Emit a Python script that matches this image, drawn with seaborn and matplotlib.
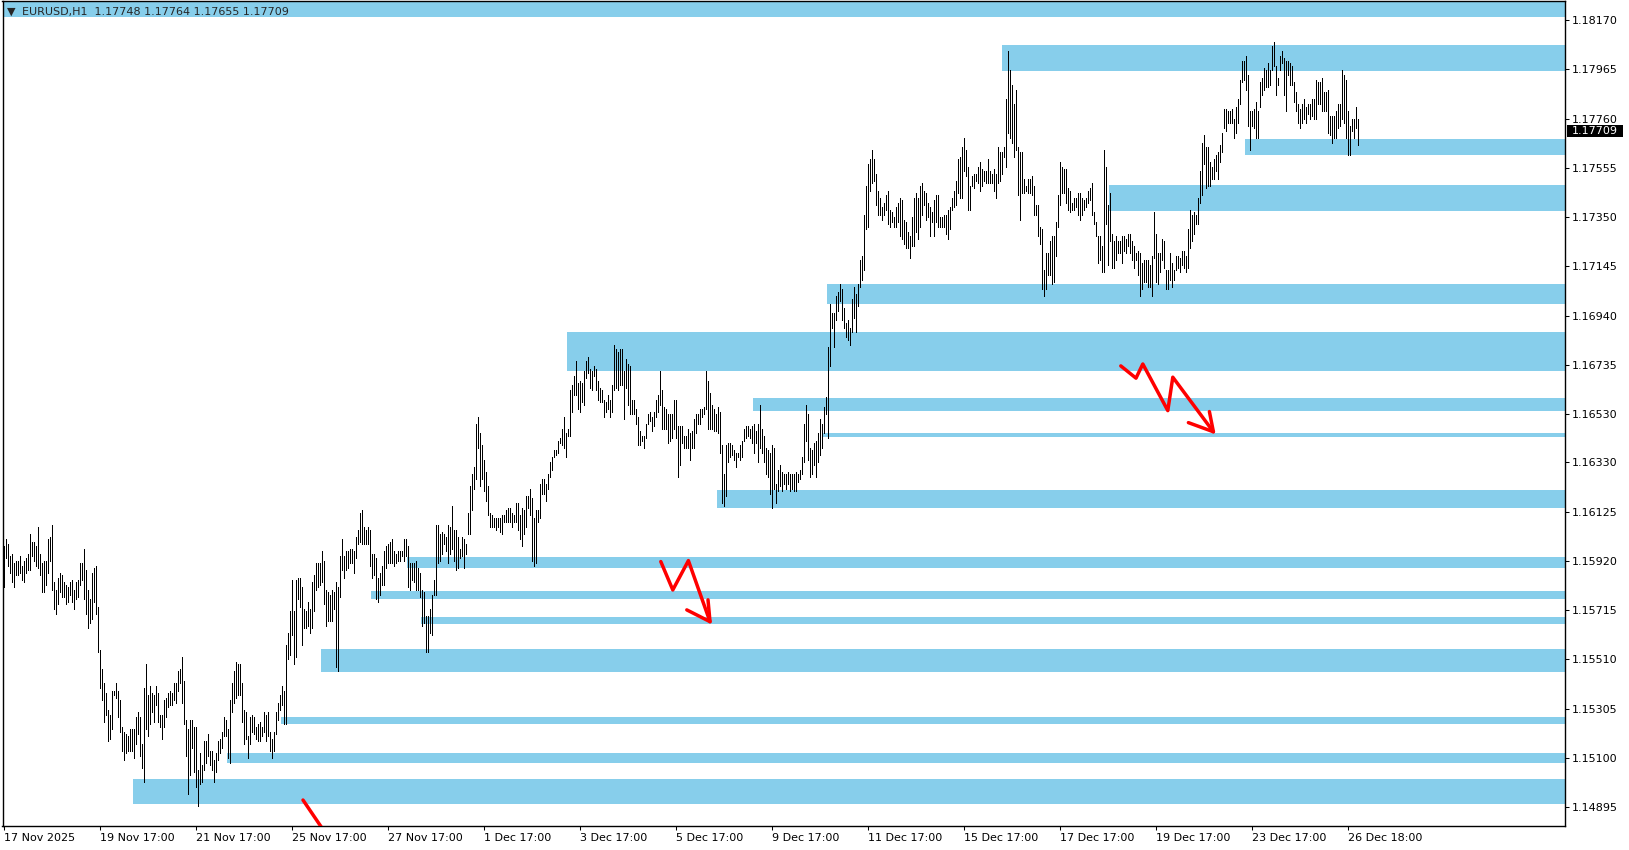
import numpy as np
import pandas as pd
import seaborn as sns
import matplotlib.pyplot as plt
from matplotlib.patches import Rectangle
from matplotlib.transforms import blended_transform_factory

# EURUSD H1 bars, 17 Nov 17:00 .. 26 Dec (high / low of each hour)
highs = [
    1.1598, 1.1601, 1.1599, 1.1594, 1.1595, 1.1591, 1.1592, 1.1592, 1.1594, 1.1590,
    1.1592, 1.1593, 1.1595, 1.1603, 1.1600, 1.1600, 1.1598, 1.1606, 1.1595, 1.1591,
    1.1592, 1.1592, 1.1601, 1.1602, 1.1607, 1.1583, 1.1580, 1.1585, 1.1587, 1.1586,
    1.1583, 1.1582, 1.1581, 1.1583, 1.1584, 1.1580, 1.1583, 1.1584, 1.1591, 1.1591,
    1.1597, 1.1588, 1.1580, 1.1576, 1.1587, 1.1589, 1.1590, 1.1573, 1.1555, 1.1547,
    1.1541, 1.1537, 1.1530, 1.1528, 1.1538, 1.1538, 1.1541, 1.1538, 1.1534, 1.1523,
    1.1521, 1.1520, 1.1519, 1.1522, 1.1522, 1.1522, 1.1527, 1.1529, 1.1527, 1.1516,
    1.1539, 1.1549, 1.1536, 1.1540, 1.1537, 1.1536, 1.1540, 1.1537, 1.1528, 1.1528,
    1.1534, 1.1535, 1.1537, 1.1538, 1.1537, 1.1541, 1.1541, 1.1546, 1.1547, 1.1552,
    1.1542, 1.1526, 1.1522, 1.1526, 1.1526, 1.1523, 1.1523, 1.1505, 1.1512, 1.1507,
    1.1517, 1.1517, 1.1520, 1.1513, 1.1513, 1.1509, 1.1512, 1.1517, 1.1518, 1.1521,
    1.1527, 1.1526, 1.1522, 1.1534, 1.1541, 1.1546, 1.1550, 1.1549, 1.1549, 1.1541,
    1.1530, 1.1529, 1.1519, 1.1527, 1.1528, 1.1527, 1.1523, 1.1524, 1.1525, 1.1523,
    1.1529, 1.1528, 1.1529, 1.1521, 1.1518, 1.1521, 1.1529, 1.1533, 1.1536, 1.1540,
    1.1538, 1.1557, 1.1562, 1.1571,
    1.1584, 1.1571, 1.1584, 1.1585, 1.1585, 1.1581, 1.1572, 1.1571, 1.1575, 1.1572,
    1.1583, 1.1586, 1.1591, 1.1591, 1.1591, 1.1596, 1.1592, 1.1580, 1.1579, 1.1578,
    1.1580, 1.1579, 1.1583, 1.1581, 1.1594, 1.1601, 1.1594, 1.1596, 1.1596, 1.1597,
    1.1597, 1.1596, 1.1602, 1.1605, 1.1612, 1.1613, 1.1606, 1.1605, 1.1606, 1.1605,
    1.1595, 1.1595, 1.1593, 1.1585, 1.1587, 1.1590, 1.1596, 1.1598, 1.1599, 1.1600,
    1.1601, 1.1596, 1.1595, 1.1596, 1.1596, 1.1596, 1.1601, 1.1601, 1.1598, 1.1591,
    1.1591, 1.1591, 1.1592, 1.1589, 1.1587, 1.1580, 1.1579, 1.1569, 1.1569, 1.1572,
    1.1578, 1.1584, 1.1607, 1.1607, 1.1603, 1.1604, 1.1603, 1.1602, 1.1607, 1.1606,
    1.1615, 1.1605, 1.1605, 1.1602, 1.1597, 1.1602, 1.1601, 1.1599, 1.1612, 1.1623,
    1.1628, 1.1631, 1.1649, 1.1652, 1.1645, 1.1640, 1.1634, 1.1629, 1.1623, 1.1612,
    1.1611, 1.1610, 1.1610, 1.1610, 1.1610, 1.1611, 1.1611, 1.1613, 1.1614, 1.1614,
    1.1612, 1.1611, 1.1616, 1.1616, 1.1611, 1.1614, 1.1613, 1.1619, 1.1619, 1.1622,
    1.1618, 1.1610, 1.1613, 1.1613, 1.1624, 1.1626, 1.1626, 1.1624, 1.1628, 1.1633,
    1.1635, 1.1638, 1.1638, 1.1642, 1.1643, 1.1647, 1.1652, 1.1645, 1.1647, 1.1663,
    1.1665, 1.1669, 1.1675, 1.1666, 1.1667, 1.1666, 1.1671, 1.1675, 1.1677, 1.1672,
    1.1671, 1.1673, 1.1672, 1.1667, 1.1664, 1.1663, 1.1659, 1.1658, 1.1661, 1.1659,
    1.1665, 1.1682, 1.1680, 1.1679, 1.1680, 1.1680, 1.1671, 1.1676, 1.1674, 1.1673,
    1.1659, 1.1659, 1.1655, 1.1652, 1.1646, 1.1644, 1.1644, 1.1649, 1.1653, 1.1654,
    1.1652, 1.1654, 1.1659, 1.1661, 1.1671, 1.1663, 1.1656, 1.1655, 1.1653, 1.1653,
    1.1653, 1.1659, 1.1659, 1.1648, 1.1648, 1.1648, 1.1644, 1.1644, 1.1647, 1.1645,
    1.1646, 1.1651, 1.1653, 1.1653, 1.1655, 1.1655, 1.1656, 1.1671, 1.1667, 1.1662,
    1.1657, 1.1655, 1.1653, 1.1656, 1.1654, 1.1640, 1.1628, 1.1640, 1.1641, 1.1641,
    1.1640, 1.1638, 1.1637, 1.1637, 1.1640, 1.1642, 1.1647, 1.1648, 1.1648, 1.1647,
    1.1648, 1.1649, 1.1646, 1.1649, 1.1657, 1.1647, 1.1644, 1.1639, 1.1638, 1.1637,
    1.1640, 1.1639, 1.1624, 1.1630, 1.1632, 1.1629, 1.1628, 1.1628, 1.1629, 1.1628,
    1.1628, 1.1628, 1.1629, 1.1628, 1.1630, 1.1635, 1.1649, 1.1657, 1.1653, 1.1639,
    1.1638, 1.1641, 1.1642, 1.1645, 1.1651, 1.1649, 1.1656, 1.1660, 1.1681, 1.1699,
    1.1695, 1.1695, 1.1702, 1.1704, 1.1707, 1.1705, 1.1697, 1.1691, 1.1692, 1.1689,
    1.1701, 1.1706, 1.1703, 1.1707, 1.1717, 1.1719, 1.1736, 1.1748, 1.1757, 1.1759,
    1.1763, 1.1759, 1.1753, 1.1746, 1.1743, 1.1739, 1.1741, 1.1744, 1.1746, 1.1738,
    1.1737, 1.1735, 1.1739, 1.1741, 1.1743, 1.1742, 1.1734, 1.1733, 1.1729, 1.1727,
    1.1735, 1.1743, 1.1745, 1.1743, 1.1748, 1.1749, 1.1746, 1.1745, 1.1741, 1.1739,
    1.1737, 1.1742, 1.1744, 1.1744, 1.1735, 1.1735, 1.1736, 1.1736, 1.1738, 1.1739,
    1.1743, 1.1746, 1.1750, 1.1759, 1.1760, 1.1764, 1.1768, 1.1763, 1.1756, 1.1748,
    1.1752, 1.1753, 1.1753, 1.1756, 1.1758, 1.1755, 1.1754, 1.1754, 1.1759, 1.1754,
    1.1753, 1.1755, 1.1753, 1.1764, 1.1762, 1.1762, 1.1764, 1.1784, 1.1804, 1.1796,
    1.1790, 1.1782, 1.1788, 1.1764, 1.1762, 1.1762, 1.1751, 1.1748, 1.1751, 1.1751,
    1.1752, 1.1748, 1.1740, 1.1740, 1.1731, 1.1730, 1.1713, 1.1720, 1.1720, 1.1725,
    1.1727, 1.1727, 1.1733, 1.1744, 1.1758, 1.1756, 1.1755, 1.1755, 1.1747, 1.1746,
    1.1741, 1.1743, 1.1743, 1.1745, 1.1745, 1.1743, 1.1742, 1.1743, 1.1746, 1.1747,
    1.1749, 1.1737, 1.1733, 1.1727, 1.1727, 1.1723, 1.1763, 1.1756, 1.1740, 1.1745,
    1.1728, 1.1725, 1.1727, 1.1725, 1.1725, 1.1727, 1.1727, 1.1726, 1.1728, 1.1728,
    1.1725, 1.1723, 1.1720, 1.1721, 1.1720, 1.1716, 1.1717, 1.1717, 1.1717, 1.1715,
    1.1719, 1.1737, 1.1728, 1.1720, 1.1720, 1.1726, 1.1725, 1.1713, 1.1713, 1.1720,
    1.1716, 1.1713, 1.1719, 1.1719, 1.1718, 1.1721, 1.1721, 1.1719, 1.1730, 1.1738,
    1.1736, 1.1737, 1.1736, 1.1743, 1.1754, 1.1766, 1.1769, 1.1764, 1.1764, 1.1758,
    1.1756, 1.1759, 1.1761, 1.1762, 1.1765, 1.1770, 1.1780, 1.1780, 1.1779, 1.1779,
    1.1780, 1.1776, 1.1781, 1.1784, 1.1792, 1.1800, 1.1800, 1.1802, 1.1794, 1.1779,
    1.1779, 1.1780, 1.1783, 1.1779, 1.1791, 1.1793, 1.1797, 1.1796, 1.1799, 1.1796,
    1.1806, 1.1808, 1.1798, 1.1793, 1.1802, 1.1804, 1.1801, 1.1800, 1.1800, 1.1799,
    1.1798, 1.1791, 1.1787, 1.1782, 1.1780, 1.1782, 1.1784, 1.1781, 1.1782, 1.1782,
    1.1784, 1.1784, 1.1792, 1.1791, 1.1791, 1.1793, 1.1787, 1.1787, 1.1788, 1.1777,
    1.1777, 1.1777, 1.1779, 1.1782, 1.1782, 1.1796, 1.1794, 1.1792, 1.1779, 1.1773,
    1.1776, 1.1776, 1.1781, 1.1776,
]
lows = [
    1.1581, 1.1593, 1.1590, 1.1587, 1.1583, 1.1581, 1.1586, 1.1586, 1.1587, 1.1584,
    1.1583, 1.1587, 1.1588, 1.1588, 1.1594, 1.1592, 1.1590, 1.1589, 1.1586, 1.1579,
    1.1579, 1.1582, 1.1587, 1.1592, 1.1580, 1.1572, 1.1570, 1.1574, 1.1579, 1.1577,
    1.1577, 1.1574, 1.1575, 1.1578, 1.1575, 1.1572, 1.1576, 1.1577, 1.1582, 1.1584,
    1.1576, 1.1570, 1.1564, 1.1566, 1.1568, 1.1575, 1.1570, 1.1554, 1.1539, 1.1534,
    1.1525, 1.1528, 1.1517, 1.1518, 1.1522, 1.1536, 1.1535, 1.1527, 1.1521, 1.1513,
    1.1509, 1.1512, 1.1513, 1.1513, 1.1513, 1.1510, 1.1516, 1.1520, 1.1511, 1.1506,
    1.1500, 1.1522, 1.1519, 1.1524, 1.1529, 1.1525, 1.1532, 1.1525, 1.1523, 1.1518,
    1.1523, 1.1527, 1.1531, 1.1532, 1.1532, 1.1534, 1.1533, 1.1538, 1.1541, 1.1533,
    1.1524, 1.1511, 1.1495, 1.1503, 1.1514, 1.1504, 1.1498, 1.1490, 1.1499, 1.1500,
    1.1505, 1.1508, 1.1511, 1.1507, 1.1505, 1.1500, 1.1504, 1.1509, 1.1512, 1.1514,
    1.1519, 1.1519, 1.1510, 1.1508, 1.1529, 1.1533, 1.1535, 1.1536, 1.1536, 1.1525,
    1.1516, 1.1518, 1.1510, 1.1516, 1.1521, 1.1520, 1.1518, 1.1517, 1.1517, 1.1519,
    1.1521, 1.1517, 1.1519, 1.1513, 1.1510, 1.1513, 1.1520, 1.1526, 1.1530, 1.1532,
    1.1524, 1.1524, 1.1551, 1.1553,
    1.1561, 1.1549, 1.1552, 1.1576, 1.1573, 1.1557, 1.1564, 1.1564, 1.1565, 1.1562,
    1.1564, 1.1571, 1.1580, 1.1581, 1.1582, 1.1583, 1.1574, 1.1565, 1.1567, 1.1567,
    1.1567, 1.1572, 1.1548, 1.1546, 1.1577, 1.1588, 1.1585, 1.1588, 1.1589, 1.1591,
    1.1591, 1.1587, 1.1593, 1.1599, 1.1600, 1.1599, 1.1599, 1.1599, 1.1599, 1.1590,
    1.1585, 1.1586, 1.1576, 1.1575, 1.1578, 1.1582, 1.1582, 1.1589, 1.1591, 1.1591,
    1.1591, 1.1590, 1.1591, 1.1592, 1.1592, 1.1594, 1.1592, 1.1594, 1.1581, 1.1580,
    1.1584, 1.1583, 1.1580, 1.1580, 1.1577, 1.1565, 1.1566, 1.1554, 1.1554, 1.1562,
    1.1561, 1.1578, 1.1578, 1.1591, 1.1592, 1.1595, 1.1599, 1.1596, 1.1591, 1.1595,
    1.1597, 1.1592, 1.1588, 1.1589, 1.1593, 1.1594, 1.1589, 1.1595, 1.1603, 1.1603,
    1.1613, 1.1622, 1.1626, 1.1639, 1.1623, 1.1626, 1.1621, 1.1617, 1.1611, 1.1606,
    1.1606, 1.1606, 1.1605, 1.1606, 1.1604, 1.1603, 1.1608, 1.1608, 1.1608, 1.1608,
    1.1606, 1.1608, 1.1608, 1.1605, 1.1601, 1.1598, 1.1603, 1.1606, 1.1614, 1.1611,
    1.1592, 1.1590, 1.1591, 1.1608, 1.1610, 1.1620, 1.1620, 1.1617, 1.1622, 1.1627,
    1.1630, 1.1635, 1.1636, 1.1637, 1.1641, 1.1640, 1.1639, 1.1635, 1.1644, 1.1644,
    1.1654, 1.1661, 1.1661, 1.1655, 1.1654, 1.1658, 1.1657, 1.1668, 1.1670, 1.1664,
    1.1663, 1.1669, 1.1663, 1.1659, 1.1658, 1.1658, 1.1652, 1.1654, 1.1655, 1.1652,
    1.1654, 1.1663, 1.1664, 1.1663, 1.1665, 1.1665, 1.1651, 1.1664, 1.1657, 1.1653,
    1.1653, 1.1653, 1.1649, 1.1640, 1.1640, 1.1642, 1.1639, 1.1643, 1.1649, 1.1650,
    1.1646, 1.1648, 1.1652, 1.1654, 1.1657, 1.1647, 1.1647, 1.1647, 1.1641, 1.1642,
    1.1643, 1.1647, 1.1643, 1.1627, 1.1632, 1.1641, 1.1639, 1.1639, 1.1639, 1.1634,
    1.1639, 1.1639, 1.1645, 1.1649, 1.1649, 1.1652, 1.1653, 1.1655, 1.1647, 1.1647,
    1.1647, 1.1646, 1.1646, 1.1645, 1.1637, 1.1616, 1.1615, 1.1619, 1.1633, 1.1635,
    1.1636, 1.1634, 1.1631, 1.1635, 1.1634, 1.1635, 1.1642, 1.1643, 1.1644, 1.1643,
    1.1641, 1.1637, 1.1641, 1.1633, 1.1639, 1.1637, 1.1633, 1.1628, 1.1627, 1.1620,
    1.1614, 1.1622, 1.1616, 1.1621, 1.1623, 1.1621, 1.1624, 1.1622, 1.1624, 1.1621,
    1.1622, 1.1621, 1.1621, 1.1625, 1.1626, 1.1628, 1.1633, 1.1642, 1.1634, 1.1627,
    1.1628, 1.1632, 1.1627, 1.1633, 1.1636, 1.1639, 1.1645, 1.1653, 1.1643, 1.1673,
    1.1689, 1.1681, 1.1692, 1.1696, 1.1700, 1.1692, 1.1689, 1.1685, 1.1684, 1.1682,
    1.1687, 1.1693, 1.1687, 1.1698, 1.1706, 1.1709, 1.1713, 1.1730, 1.1731, 1.1746,
    1.1749, 1.1750, 1.1740, 1.1736, 1.1736, 1.1734, 1.1736, 1.1738, 1.1732, 1.1731,
    1.1733, 1.1731, 1.1731, 1.1733, 1.1727, 1.1726, 1.1724, 1.1722, 1.1722, 1.1718,
    1.1723, 1.1723, 1.1729, 1.1726, 1.1731, 1.1736, 1.1740, 1.1734, 1.1735, 1.1727,
    1.1733, 1.1727, 1.1733, 1.1731, 1.1731, 1.1731, 1.1731, 1.1728, 1.1726, 1.1730,
    1.1738, 1.1739, 1.1740, 1.1745, 1.1743, 1.1743, 1.1754, 1.1752, 1.1738, 1.1738,
    1.1748, 1.1747, 1.1750, 1.1749, 1.1746, 1.1748, 1.1750, 1.1749, 1.1749, 1.1749,
    1.1749, 1.1746, 1.1743, 1.1749, 1.1750, 1.1753, 1.1760, 1.1756, 1.1770, 1.1768,
    1.1766, 1.1760, 1.1763, 1.1744, 1.1734, 1.1745, 1.1745, 1.1746, 1.1745, 1.1745,
    1.1744, 1.1736, 1.1736, 1.1727, 1.1724, 1.1705, 1.1702, 1.1705, 1.1711, 1.1711,
    1.1707, 1.1708, 1.1719, 1.1731, 1.1740, 1.1745, 1.1745, 1.1741, 1.1738, 1.1737,
    1.1738, 1.1738, 1.1739, 1.1736, 1.1734, 1.1736, 1.1738, 1.1739, 1.1741, 1.1742,
    1.1736, 1.1732, 1.1727, 1.1716, 1.1717, 1.1712, 1.1712, 1.1732, 1.1715, 1.1725,
    1.1714, 1.1714, 1.1717, 1.1720, 1.1720, 1.1716, 1.1721, 1.1720, 1.1723, 1.1720,
    1.1717, 1.1714, 1.1717, 1.1711, 1.1702, 1.1705, 1.1708, 1.1708, 1.1706, 1.1706,
    1.1702, 1.1718, 1.1708, 1.1707, 1.1712, 1.1717, 1.1714, 1.1705, 1.1705, 1.1709,
    1.1706, 1.1709, 1.1713, 1.1714, 1.1712, 1.1715, 1.1714, 1.1712, 1.1714, 1.1722,
    1.1725, 1.1728, 1.1732, 1.1732, 1.1741, 1.1744, 1.1757, 1.1747, 1.1748, 1.1748,
    1.1751, 1.1751, 1.1754, 1.1751, 1.1758, 1.1762, 1.1772, 1.1771, 1.1774, 1.1774,
    1.1774, 1.1768, 1.1770, 1.1774, 1.1782, 1.1791, 1.1792, 1.1788, 1.1773, 1.1763,
    1.1773, 1.1772, 1.1768, 1.1768, 1.1781, 1.1786, 1.1788, 1.1789, 1.1789, 1.1790,
    1.1796, 1.1798, 1.1786, 1.1790, 1.1796, 1.1799, 1.1786, 1.1779, 1.1794, 1.1790,
    1.1790, 1.1783, 1.1779, 1.1774, 1.1772, 1.1774, 1.1776, 1.1774, 1.1778, 1.1776,
    1.1777, 1.1776, 1.1776, 1.1782, 1.1782, 1.1779, 1.1779, 1.1779, 1.1770, 1.1769,
    1.1766, 1.1768, 1.1768, 1.1772, 1.1773, 1.1776, 1.1774, 1.1768, 1.1761, 1.1761,
    1.1771, 1.1768, 1.1772, 1.1765,
]

header = "EURUSD,H1  1.17748 1.17764 1.17655 1.17709"
last_price = 1.17709

# time axis labels, one every 48 bars
date_labels = ["17 Nov 2025", "19 Nov 17:00", "21 Nov 17:00", "25 Nov 17:00", "27 Nov 17:00",
               "1 Dec 17:00", "3 Dec 17:00", "5 Dec 17:00", "9 Dec 17:00", "11 Dec 17:00",
               "15 Dec 17:00", "17 Dec 17:00", "19 Dec 17:00", "23 Dec 17:00", "26 Dec 18:00"]
price_ticks = [1.18170, 1.17965, 1.17760, 1.17555, 1.17350, 1.17145, 1.16940, 1.16735, 1.16530,
               1.16330, 1.16125, 1.15920, 1.15715, 1.15510, 1.15305, 1.15100, 1.14895]

# supply / demand zones: first bar, low, high (run to the right edge)
zone_start = [-1, 499, 620.5, 552.5, 411.5, 281.5, 374.5, 409.5, 356.5,
              201.5, 183.5, 208.5, 158.5, 138.5, 111.5, 64.5]
zone_low = [1.18184, 1.17959, 1.17608, 1.17377, 1.16989, 1.16711, 1.16545, 1.16437, 1.16141,
            1.15892, 1.15762, 1.15658, 1.15459, 1.15243, 1.15079, 1.14910]
zone_high = [1.18260, 1.18066, 1.17674, 1.17484, 1.17072, 1.16872, 1.16598, 1.16453, 1.16215,
             1.15936, 1.15795, 1.15688, 1.15554, 1.15272, 1.15122, 1.15013]

# hand drawn red arrows (bar, price)
arrow_1 = [(558.4, 1.16731), (566.0, 1.16680), (569.4, 1.16739), (581.9, 1.16545),
           (584.4, 1.16684), (604.7, 1.16457)]
arrow_1_head = [(592.2, 1.16495), (604.7, 1.16457), (602.7, 1.16541)]
arrow_2 = [(328.4, 1.15917), (334.4, 1.15799), (342.2, 1.15921), (353.0, 1.15667)]
arrow_2_head = [(341.4, 1.15716), (353.0, 1.15667), (352.0, 1.15758)]
arrow_3 = [(149.5, 1.14925), (160.5, 1.14790)]

n = len(highs)
bars = pd.DataFrame({"bar": np.arange(n), "high": highs[:n], "low": lows[:n]})

sns.set_theme(style="white")
plt.rcParams['font.family'] = ['DejaVu Sans']

fig = plt.figure(figsize=(16.29, 8.5), dpi=100)
ax = fig.add_axes([2.5 / 1629, 24 / 850, 1562.5 / 1629, 825 / 850])

x_right = 780.5
for x0, lo, hi in zip(zone_start, zone_low, zone_high):
    ax.fill_between([x0, x_right + 5], lo, hi, color="#87CEEB", lw=0, zorder=1)

# one pixel wide bars
ax.vlines(bars["bar"], bars["low"], bars["high"], colors="black",
          linewidth=0.5, antialiased=False, zorder=3)

paths = [arrow_1, arrow_1_head, arrow_2, arrow_2_head, arrow_3]
arrows = pd.DataFrame([(k, px, py) for k, p in enumerate(paths) for px, py in p],
                      columns=["seg", "x", "y"])
sns.lineplot(data=arrows, x="x", y="y", units="seg", estimator=None, sort=False,
             color="red", linewidth=2.5, ax=ax, zorder=4, legend=False)

ax.set_xlim(-0.75, x_right)
ax.set_ylim(1.14817, 1.18249)
ax.set_xlabel("")
ax.set_ylabel("")

ax.yaxis.tick_right()
ax.set_yticks(price_ticks)
ax.set_yticklabels([f"{p:.5f}" for p in price_ticks])
ax.set_xticks(np.arange(len(date_labels)) * 48)
ax.set_xticklabels(date_labels)
for lab in ax.get_xticklabels():
    lab.set_horizontalalignment("left")
ax.tick_params(axis="both", direction="out", length=3, width=0.75, color="black",
               labelsize=8, labelcolor="black", pad=2)
ax.tick_params(axis="y", left=False, right=True)
ax.tick_params(axis="x", bottom=True, top=False)

for s in ax.spines.values():
    s.set_color("black")
    s.set_linewidth(1.0)

# current price marker on the price scale
tr = blended_transform_factory(ax.transAxes, ax.transData)
ax.add_patch(Rectangle((1.0013, last_price - 0.000258), 0.0358, 0.000516, transform=tr,
                       facecolor="black", edgecolor="none", clip_on=False, zorder=5))
ax.text(1.0044, last_price, f"{last_price:.5f}", transform=tr, color="white", fontsize=8,
        va="center", ha="left", zorder=6)

fig.text(7 / 1629, 1 - 12 / 850, "\u25bc", fontsize=8, va="center", ha="left")
fig.text(22 / 1629, 1 - 12 / 850, header, fontsize=8, va="center", ha="left")

fig.savefig("out.png", dpi=100)
